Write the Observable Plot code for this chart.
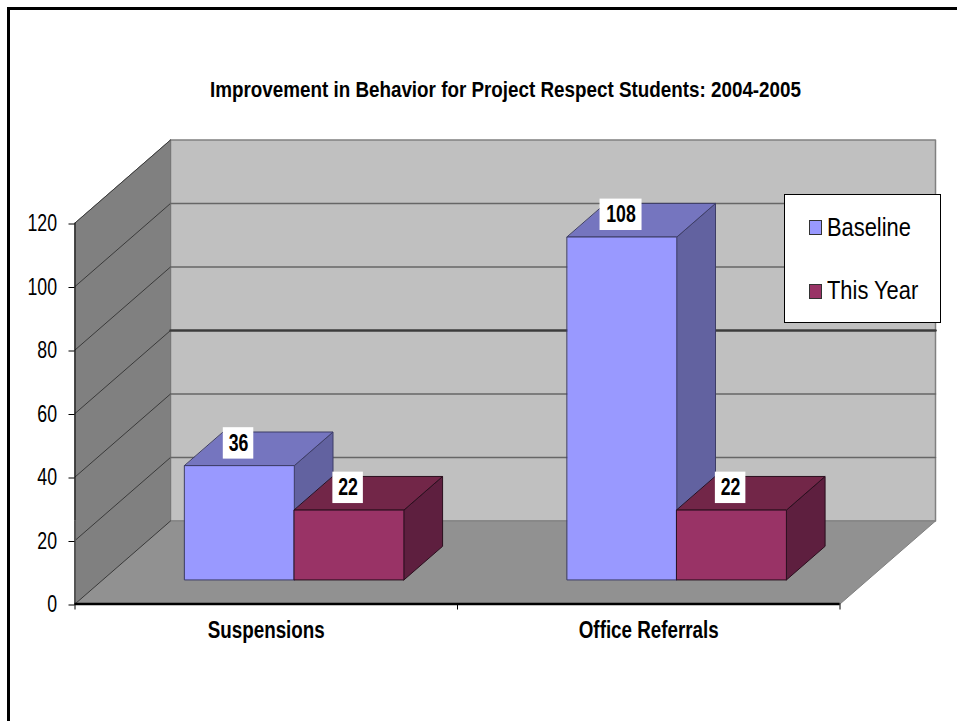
<!DOCTYPE html>
<html>
<head>
<meta charset="utf-8">
<script src="https://cdn.jsdelivr.net/npm/d3@7"></script>
<script src="https://cdn.jsdelivr.net/npm/@observablehq/plot@0.6"></script>
<style>
html,body{margin:0;padding:0;background:#fff;overflow:hidden}
#wrap{position:relative;width:957px;height:721px;font-family:"Liberation Sans",Arial,sans-serif}
#frame{position:absolute;left:7px;top:7px;right:0;bottom:0;border-left:3px solid #000;border-top:3px solid #000;pointer-events:none}
#legend{position:absolute;left:784px;top:194px;width:157px;height:129px;background:#fff;border:1px solid #000;box-sizing:border-box}
#legend .sw{position:absolute;left:24px;width:13px;height:15px;border:1px solid #333;box-sizing:border-box}
#legend .lb{position:absolute;left:42px;font-size:25px;line-height:28px;color:#000;white-space:nowrap;transform:scaleX(.875);transform-origin:left center}
svg{display:block}
</style>
</head>
<body>
<div id="wrap"></div>
<script>
const title = "Improvement in Behavior for Project Respect Students: 2004-2005";
const categories = ["Suspensions", "Office Referrals"];
const baseline = [36, 108];
const thisYear = [22, 22];
const seriesNames = ["Baseline", "This Year"];
const yTicks = [0, 20, 40, 60, 80, 100, 120];
const frontColors = ["#9999ff", "#993366"];
const topColors = ["#7575bf", "#722648"];
const sideColors = ["#6262a0", "#5e1f3f"];
const edgeColors = ["#3d3d66", "#2a0f1e"];

// oblique projection of (category position, value, depth) into the plot's x / y scales
const DX = 95.5 / 382.5, DY = 83 / 3.175;
const P = (c, v, z) => ({x: c + z * DX, y: v + z * DY});
const poly = (pts, fill, stroke, strokeWidth = 1) =>
  Plot.line(pts, {x: "x", y: "y", fill, stroke, strokeWidth, curve: "linear-closed"});

const GAP = 0.2145, BARW = 0.2865, Z0 = 0.29, Z1 = 0.695;
const barMarks = [];
const labelRows = [];
categories.forEach((cat, ci) => {
  [baseline, thisYear].forEach((series, si) => {
    const v = series[ci];
    const c0 = ci + GAP + si * BARW, c1 = c0 + BARW;
    barMarks.push(
      poly([P(c1, 0, Z0), P(c1, 0, Z1), P(c1, v, Z1), P(c1, v, Z0)], sideColors[si], edgeColors[si]),
      poly([P(c0, v, Z0), P(c1, v, Z0), P(c1, v, Z1), P(c0, v, Z1)], topColors[si], edgeColors[si]),
      poly([P(c0, 0, Z0), P(c1, 0, Z0), P(c1, v, Z0), P(c0, v, Z0)], frontColors[si], edgeColors[si])
    );
    const f = P((c0 + c1) / 2, v, Z0);
    labelRows.push({x: f.x - 1 / 382.5, y: f.y + 7, v});
  });
});

const wallMarks = [
  poly([P(0, 0, 1), P(2, 0, 1), P(2, 120, 1), P(0, 120, 1)], "#c0c0c0", "#808080", 1.5),
  poly([P(0, 0, 0), P(0, 0, 1), P(0, 120, 1), P(0, 120, 0)], "#808080", "#777"),
  poly([P(0, 0, 0), P(2, 0, 0), P(2, 0, 1), P(0, 0, 1)], "#919191", "#808080")
];
const gridMarks = yTicks.flatMap(t => [
  Plot.line([P(0, t, 0), P(0, t, 1)], {x: "x", y: "y", stroke: "#3a3a3a", strokeWidth: 1}),
  t === 0 || t === 120 ? null :
  Plot.line([P(0, t, 1), P(2, t, 1)], {x: "x", y: "y",
    stroke: t === 60 ? "#3c3c3c" : "#666", strokeWidth: t === 60 ? 2.5 : 1.5})
]);

const boxW = d => (String(d.v).length === 3 ? 42 : 30.5) / 2 / 382.5;
const boxH = 15.7 / 3.175;

const chart = Plot.plot({
  width: 957, height: 721,
  marginLeft: 74.5, marginRight: 117.5, marginTop: 222.5, marginBottom: 117.5,
  x: {domain: [0, 2]},
  y: {domain: [0, 120]},
  marks: [
    ...wallMarks,
    ...gridMarks,
    Plot.ruleX([0], {y1: DY, y2: 120, stroke: "#000", strokeWidth: 1}),
    Plot.ruleX([0], {y1: 0, y2: DY, stroke: "#555", strokeWidth: 2}),
    Plot.ruleY([0], {stroke: "#000", strokeWidth: 2.5}),
    Plot.axisY({ticks: yTicks, tickSize: 6, tickPadding: 12, fontSize: 23, label: null,
      fontFamily: "Liberation Sans", fill: "#000", stroke: "#000", dy: 1}),
    Plot.axisX({ticks: [0, 1, 2], tickSize: 6, tickFormat: () => "", label: null, stroke: "#000"}),
    ...barMarks,
    Plot.rect(labelRows, {
      x1: d => d.x - boxW(d), x2: d => d.x + boxW(d),
      y1: d => d.y - boxH, y2: d => d.y + boxH, fill: "#fff"
    }),
    Plot.text(labelRows, {x: "x", y: "y", text: d => String(d.v), fontSize: 23, fontWeight: "bold",
      fontFamily: "Liberation Sans", fill: "#000", lineAnchor: "middle"}),
    Plot.text(categories, {x: (d, i) => i + 0.5, y: () => 0, text: d => d, dy: 26.5, lineAnchor: "middle",
      fontSize: 23, fontWeight: "bold", fontFamily: "Liberation Sans", fill: "#000"}),
    Plot.text([title], {frameAnchor: "top", dx: 48, dy: -133, lineAnchor: "middle", text: d => d,
      fontSize: 22, fontWeight: "bold", fontFamily: "Liberation Sans", fill: "#000"})
  ]
});

const wrap = document.getElementById("wrap");
wrap.appendChild(chart);

const fr = document.createElement("div");
fr.id = "frame";
wrap.appendChild(fr);

const lg = document.createElement("div");
lg.id = "legend";
seriesNames.forEach((name, i) => {
  const sw = document.createElement("div");
  sw.className = "sw";
  sw.style.top = (25 + i * 64) + "px";
  sw.style.background = frontColors[i];
  const lb = document.createElement("div");
  lb.className = "lb";
  lb.style.top = (18 + i * 63) + "px";
  lb.textContent = name;
  lg.append(sw, lb);
});
wrap.appendChild(lg);

// the reference's text is narrowed horizontally
const fit = (el, w) => {
  el.setAttribute("textLength", w);
  el.setAttribute("lengthAdjust", "spacingAndGlyphs");
};
d3.select(chart).selectAll("text").each(function () {
  const s = this.textContent, len = this.getComputedTextLength();
  if (s === title) fit(this, 591);
  else if (categories.includes(s)) fit(this, s === categories[0] ? 117 : 140);
  else fit(this, len * 0.77);
});
</script>
</body>
</html>
